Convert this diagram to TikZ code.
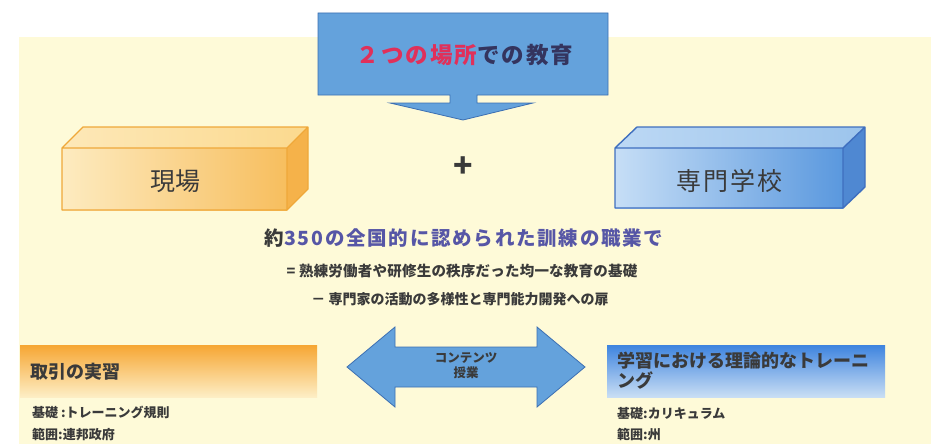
\documentclass[tikz,border=0pt]{standalone}
\usepackage{fontspec}
\setmainfont{Noto Sans CJK JP}
\definecolor{bg}{HTML}{FEFAD8}
\definecolor{txt}{HTML}{3A3A3A}
\definecolor{red1}{HTML}{E0305A}
\definecolor{navy}{HTML}{34345E}
\definecolor{purp}{HTML}{5656A6}
\definecolor{arrfill}{HTML}{64A2DC}
\definecolor{arrline}{HTML}{3C6FB2}
\definecolor{orline}{HTML}{EFA83A}
\definecolor{blline}{HTML}{3F6FBF}
\definecolor{orA}{HTML}{FDEBC0}
\definecolor{orB}{HTML}{F7BE5E}
\definecolor{orTop1}{HTML}{FDE8B8}
\definecolor{orTop2}{HTML}{FBD98E}
\definecolor{orSide}{HTML}{F5B24A}
\definecolor{blA}{HTML}{C6DEF6}
\definecolor{blB}{HTML}{5A98DE}
\definecolor{blTop1}{HTML}{BCD8F4}
\definecolor{blTop2}{HTML}{9CC4EC}
\definecolor{blSide}{HTML}{4F88D2}
\definecolor{barOr1}{HTML}{F6A633}
\definecolor{barOr2}{HTML}{FDEEC5}
\definecolor{barBl1}{HTML}{3E84DF}
\definecolor{barBl2}{HTML}{C9DEF4}
\tikzset{
  bigarrow/.style={fill=arrfill, draw=arrline, line width=0.8pt, line join=miter},
  lbl/.style={inner sep=0pt, text=txt, font=\bfseries},
  boxlbl/.style={inner sep=0pt, text=txt, font=\fontsize{25}{28}\selectfont},
  sub/.style={inner sep=0pt, anchor=west, text=txt, font=\bfseries\fontsize{13}{15}\selectfont},
}
\begin{document}
\begin{tikzpicture}[x=1pt,y=-1pt]
\useasboundingbox (0,0) rectangle (931,444);
\fill[white] (0,0) rectangle (931,444);
\fill[bg] (19,37) rectangle (931,444);

% top arrow
\draw[bigarrow] (318,13) -- (608,13) -- (608,95) -- (477,95) -- (477,103) -- (533,103)
  -- (463,120) -- (390,103) -- (450,103) -- (450,95) -- (318,95) -- cycle;
\node[lbl, font=\bfseries\fontsize{22.5}{26}\selectfont] (title) at (465,55)
  {\addfontfeatures{LetterSpace=9}\textcolor{red1}{２つの場所}\textcolor{navy}{での教育}};

% orange 3D box
\shade[left color=orA, right color=orB] (62,148) rectangle (287,210);
\shade[left color=orTop1, right color=orTop2]
  (62,148) -- (83,127) -- (308,127) -- (287,148) -- cycle;
\fill[orSide] (287,148) -- (308,127) -- (308,189) -- (287,210) -- cycle;
\draw[orline, line width=1.4pt, line join=round] (62,148) -- (83,127) -- (308,127) -- (308,189) -- (287,210) -- (62,210) -- cycle
  (62,148) -- (287,148) -- (308,127) (287,148) -- (287,210);
\node[boxlbl] (genba) at (175,181) {現場};

% plus
\node[inner sep=0pt, text=txt, font=\bfseries\fontsize{32}{34}\selectfont] (plus) at (463,167) {+};

% blue 3D box
\shade[left color=blA, right color=blB] (615,148) rectangle (843,208);
\shade[left color=blTop1, right color=blTop2]
  (615,148) -- (637,127) -- (865,127) -- (843,148) -- cycle;
\fill[blSide] (843,148) -- (865,127) -- (865,187) -- (843,208) -- cycle;
\draw[blline, line width=1.4pt, line join=round] (615,148) -- (637,127) -- (865,127) -- (865,187) -- (843,208) -- (615,208) -- cycle
  (615,148) -- (843,148) -- (865,127) (843,148) -- (843,208);
\node[boxlbl] (senmon) at (729,181) {\addfontfeatures{LetterSpace=8}専門学校};

% central text
\node[lbl, font=\bfseries\fontsize{19.5}{22}\selectfont] (l1) at (464,238)
  {\addfontfeatures{LetterSpace=9}約\textcolor{purp}{350の全国的に認められた訓練の職業で}};
\node[lbl, font=\bfseries\fontsize{14.5}{17}\selectfont] (l2) at (462,271)
  {\addfontfeatures{LetterSpace=1.5}=\ 熟練労働者や研修生の秩序だった均一な教育の基礎};
\node[lbl, font=\bfseries\fontsize{14}{17}\selectfont] (l3) at (460,299)
  {－\ 専門家の活動の多様性と専門能力開発への扉};

% double arrow
\draw[bigarrow] (347,367) -- (395,327) -- (395,347) -- (537,347) -- (537,327) -- (585,367)
  -- (537,407) -- (537,387) -- (395,387) -- (395,407) -- cycle;
\node[inner sep=0pt, text=txt, font=\bfseries\fontsize{12.5}{14}\selectfont, align=center] (cont) at (466,366)
  {コンテンツ\\[1pt]授業};

% left bottom panel
\shade[top color=barOr1, bottom color=barOr2] (20,345) rectangle (317,397);
\node[lbl, anchor=west, font=\bfseries\fontsize{18}{20}\selectfont] (lh) at (30,372) {取引の実習};
\node[sub] (lb1) at (32,412) {基礎 :トレーニング規則};
\node[sub] (lb2) at (32,435) {範囲:連邦政府};

% right bottom panel
\shade[top color=barBl1, bottom color=barBl2] (607,345) rectangle (885,397);
\node[lbl, anchor=north west, align=left, font=\bfseries\fontsize{18}{20}\selectfont] (rh) at (617,352)
  {学習における理論的なトレーニ\\ング};
\node[sub] (rb1) at (617,414) {基礎:カリキュラム};
\node[sub] (rb2) at (617,435) {範囲:州};
\end{tikzpicture}
\end{document}
